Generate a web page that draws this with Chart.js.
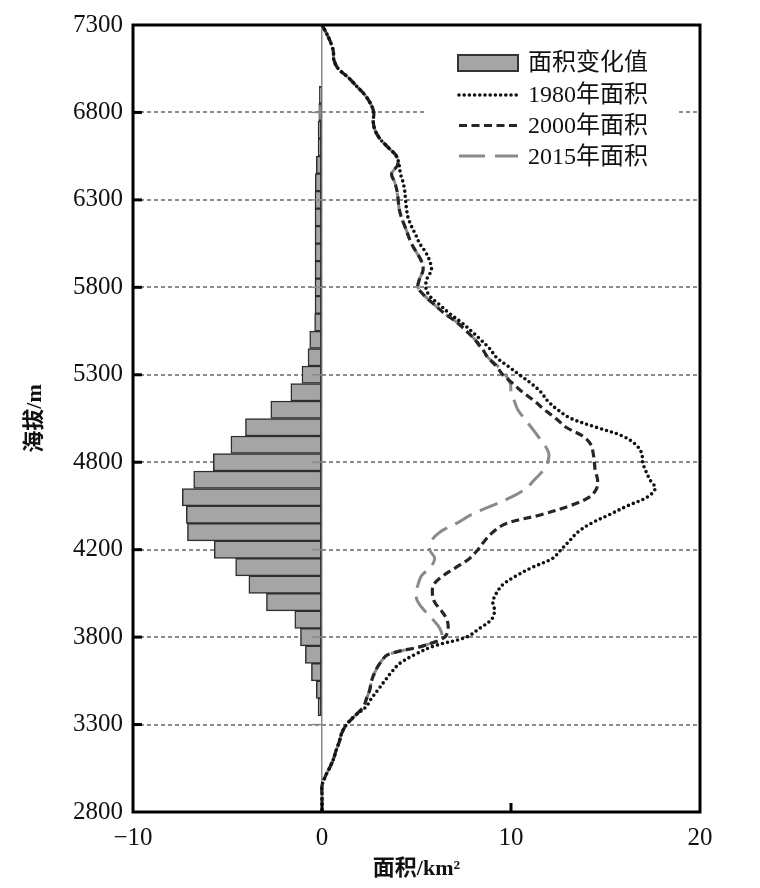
<!DOCTYPE html>
<html>
<head>
<meta charset="utf-8">
<script src="https://cdn.jsdelivr.net/npm/chart.js@4.4.1/dist/chart.umd.min.js"></script>
<style>
  html, body { margin: 0; padding: 0; background: #fff; }
</style>
</head>
<body>
<canvas id="chart" width="760" height="888"></canvas>
<script>
// altitude (m) of each curve sample, top to bottom
const altitudes = [
  7300, 7250, 7200, 7150, 7100, 7050, 7000, 6950, 6900, 6850,
  6800, 6750, 6700, 6650, 6600, 6550, 6500, 6450, 6400, 6350,
  6300, 6250, 6200, 6150, 6100, 6050, 6000, 5950, 5900, 5850,
  5800, 5750, 5700, 5650, 5600, 5550, 5500, 5450, 5400, 5350,
  5300, 5250, 5200, 5150, 5100, 5050, 5000, 4950, 4900, 4850,
  4800, 4750, 4700, 4650, 4600, 4550, 4500, 4450, 4400, 4350,
  4300, 4250, 4200, 4150, 4100, 4050, 4000, 3950, 3900, 3850,
  3800, 3750, 3700, 3650, 3600, 3550, 3500, 3450, 3400, 3350,
  3300, 3250, 3200, 3150, 3100, 3050, 3000, 2950, 2900, 2850, 2800
];

const area1980 = [
  0, 0.25, 0.46, 0.6, 0.63, 0.86, 1.39, 1.83, 2.27, 2.57,
  2.74, 2.71, 2.8, 3.06, 3.5, 3.94, 4.08, 4.15, 4.29, 4.38,
  4.42, 4.47, 4.55, 4.73, 4.96, 5.17, 5.49, 5.7, 5.79, 5.56,
  5.49, 5.7, 6.23, 6.75, 7.37, 7.9, 8.4, 8.87, 9.22, 9.83,
  10.45, 11.07, 11.59, 11.94, 12.47, 13.18, 14.5, 15.9, 16.61, 16.92,
  16.96, 17.13, 17.35, 17.63, 17.2, 16.15, 15.2, 14.23, 13.53, 13.09,
  12.65, 12.2, 11.15, 10.27, 9.57, 9.22, 9.04, 9.13, 8.96, 8.34,
  7.64, 5.95, 4.91, 4.12, 3.68, 3.32, 2.97, 2.62, 2.32, 1.74,
  1.3, 1.04, 0.91, 0.74, 0.6, 0.39, 0.16, 0, 0, 0, 0
];

const area2000 = [
  0, 0.25, 0.46, 0.6, 0.63, 0.86, 1.39, 1.83, 2.27, 2.57,
  2.74, 2.71, 2.8, 3.06, 3.5, 3.94, 4.0, 3.68, 3.85, 3.97,
  4.03, 4.08, 4.2, 4.38, 4.55, 4.73, 5.0, 5.26, 5.35, 5.17,
  5.08, 5.44, 5.96, 6.49, 7.14, 7.64, 8.1, 8.47, 8.77, 9.22,
  9.57, 10.1, 10.62, 11.24, 11.77, 12.38, 12.91, 13.79, 14.23, 14.35,
  14.41, 14.46, 14.58, 14.53, 14.14, 13.09, 11.59, 9.75, 9.04, 8.6,
  8.25, 7.81, 7.11, 6.4, 5.91, 5.84, 5.96, 6.32, 6.61, 6.67,
  6.49, 5.35, 3.5, 3.06, 2.8, 2.62, 2.53, 2.36, 2.18, 1.74,
  1.3, 1.04, 0.91, 0.74, 0.6, 0.39, 0.16, 0, 0, 0, 0
];

const area2015 = [
  0, 0.25, 0.46, 0.6, 0.63, 0.86, 1.39, 1.83, 2.27, 2.57,
  2.74, 2.71, 2.8, 3.06, 3.5, 3.94, 4.0, 3.68, 3.85, 3.97,
  4.03, 4.08, 4.2, 4.38, 4.55, 4.73, 5.0, 5.26, 5.35, 5.17,
  5.08, 5.44, 5.96, 6.49, 7.14, 7.64, 8.1, 8.4, 8.77, 9.3,
  9.71, 9.96, 10.01, 10.18, 10.36, 10.71, 11.07, 11.42, 11.77, 12.0,
  11.94, 11.68, 11.24, 10.8, 10.01, 8.96, 7.9, 7.11, 6.23, 5.79,
  5.7, 5.96, 5.74, 5.26, 5.08, 4.96, 5.08, 5.44, 5.87, 6.23,
  6.32, 5.35, 3.5, 3.06, 2.8, 2.62, 2.53, 2.36, 2.18, 1.74,
  1.3, 1.04, 0.91, 0.74, 0.6, 0.39, 0.16, 0, 0, 0, 0
];

// area change per 100 m band (centre altitude)
const barAltitudes = [
  6900, 6800, 6700, 6600, 6500, 6400, 6300, 6200, 6100, 6000,
  5900, 5800, 5700, 5600, 5500, 5400, 5300, 5200, 5100, 5000,
  4900, 4800, 4700, 4600, 4500, 4400, 4300, 4200, 4100, 4000,
  3900, 3800, 3700, 3600, 3500, 3400
];
const areaChange = [
  -0.14, -0.17, -0.21, -0.21, -0.3, -0.36, -0.37, -0.37, -0.37, -0.37,
  -0.37, -0.37, -0.37, -0.39, -0.65, -0.74, -1.06, -1.65, -2.71, -4.05,
  -4.82, -5.75, -6.79, -7.39, -7.18, -7.12, -5.7, -4.57, -3.87, -2.94,
  -1.44, -1.14, -0.88, -0.56, -0.3, -0.21
];

const yTickValues = [2800, 3300, 3800, 4300, 4800, 5300, 5800, 6300, 6800, 7300];
const yTickLabels = ['2800', '3300', '3800', '4200', '4800', '5300', '5800', '6300', '6800', '7300'];
const xTickValues = [-10, 0, 10, 20];
const xTickLabels = ['\u221210', '0', '10', '20'];
const legendLabels = ['面积变化值', '1980年面积', '2000年面积', '2015年面积'];

const FONT = '"Liberation Serif", "Noto Sans CJK SC", serif';

const toPoints = vals => vals.map((v, i) => ({ x: v, y: altitudes[i] }));

const lineStyles = [
  { color: '#111', dash: [0, 5.2], width: 3.6, legendDash: [0, 5.2] },
  { color: '#262626', dash: [8, 4.5], width: 3.2, legendDash: [8, 4.5] },
  { color: '#8a8a8a', dash: [19, 9], width: 3, legendDash: [26, 10] }
];

// frame, inner ticks and legend box
const decorPlugin = {
  id: 'decor',
  afterDraw(chart) {
    const { ctx, chartArea: a, scales } = chart;
    const x0 = scales.x.getPixelForValue(0);
    ctx.save();

    // short marks on the zero line
    ctx.strokeStyle = '#8a8a8a';
    ctx.lineWidth = 1.5;
    yTickValues.slice(1, -1).forEach(v => {
      const y = scales.y.getPixelForValue(v);
      ctx.beginPath();
      ctx.moveTo(x0 - 10, y);
      ctx.lineTo(x0, y);
      ctx.stroke();
    });

    // legend
    const lx = a.right - 242, ly = a.top + 30;
    ctx.fillStyle = '#fff';
    ctx.fillRect(a.right - 274, a.top + 14, 250, 144);

    ctx.fillStyle = '#a5a5a5';
    ctx.strokeStyle = '#333';
    ctx.lineWidth = 2;
    ctx.fillRect(lx, ly, 60, 16);
    ctx.strokeRect(lx, ly, 60, 16);

    lineStyles.forEach((s, i) => {
      const y = ly + 40 + i * 30.5;
      ctx.strokeStyle = s.color;
      ctx.lineWidth = s.width;
      ctx.setLineDash(s.legendDash);
      ctx.lineCap = i === 0 ? 'round' : 'butt';
      ctx.beginPath();
      ctx.moveTo(lx + 1, y);
      ctx.lineTo(lx + 60, y);
      ctx.stroke();
    });
    ctx.setLineDash([]);

    ctx.fillStyle = '#111';
    ctx.font = '24px ' + FONT;
    ctx.textBaseline = 'middle';
    legendLabels.forEach((t, i) => {
      ctx.fillText(t, lx + 70, ly + 9 + i * 31.3);
    });

    // frame
    ctx.strokeStyle = '#000';
    ctx.lineWidth = 3;
    ctx.lineCap = 'butt';
    ctx.strokeRect(a.left, a.top, a.right - a.left, a.bottom - a.top);

    // inward ticks
    yTickValues.slice(1, -1).forEach(v => {
      const y = scales.y.getPixelForValue(v);
      ctx.beginPath();
      ctx.moveTo(a.left, y);
      ctx.lineTo(a.left + 9, y);
      ctx.stroke();
    });
    xTickValues.slice(1, -1).forEach(v => {
      const x = scales.x.getPixelForValue(v);
      ctx.beginPath();
      ctx.moveTo(x, a.bottom);
      ctx.lineTo(x, a.bottom - 9);
      ctx.stroke();
    });
    ctx.restore();
  }
};

const ctx = document.getElementById('chart').getContext('2d');
new Chart(ctx, {
  type: 'bar',
  data: {
    datasets: [
      ...[area1980, area2000, area2015].map((vals, i) => ({
        type: 'line',
        label: legendLabels[i + 1],
        data: toPoints(vals),
        borderColor: lineStyles[i].color,
        borderWidth: lineStyles[i].width,
        borderDash: lineStyles[i].dash,
        borderCapStyle: i === 0 ? 'round' : 'butt',
        pointRadius: 0,
        tension: 0.35,
        fill: false
      })),
      {
        type: 'bar',
        label: legendLabels[0],
        data: barAltitudes.map((alt, i) => ({ x: areaChange[i], y: alt })),
        backgroundColor: '#a5a5a5',
        borderColor: '#2e2e2e',
        borderWidth: 1.5,
        borderSkipped: false,
        barPercentage: 1,
        categoryPercentage: 1
      }
    ]
  },
  options: {
    indexAxis: 'y',
    responsive: false,
    animation: false,
    layout: { padding: { top: 20, right: 60, left: 0, bottom: 0 } },
    plugins: {
      legend: { display: false },
      tooltip: { enabled: false }
    },
    scales: {
      x: {
        type: 'linear',
        min: -10,
        max: 20,
        offset: false,
        afterBuildTicks: s => { s.ticks = xTickValues.map(v => ({ value: v })); },
        afterFit: s => { s.height = 76; },
        ticks: {
          callback: (v, i) => xTickLabels[i],
          font: { family: FONT, size: 25 },
          color: '#111',
          padding: 11,
          maxRotation: 0
        },
        grid: {
          offset: false,
          drawTicks: false,
          color: c => (c.tick && c.tick.value === 0) ? '#8a8a8a' : 'rgba(0,0,0,0)',
          lineWidth: 1.5
        },
        border: { display: false },
        title: {
          display: true,
          text: '面积/km²',
          font: { family: FONT, size: 22, weight: 'bold' },
          color: '#111',
          padding: { top: 0, bottom: 5 }
        }
      },
      y: {
        type: 'linear',
        min: 2800,
        max: 7300,
        offset: false,
        afterBuildTicks: s => { s.ticks = yTickValues.map(v => ({ value: v })); },
        afterFit: s => { s.width = 133; },
        ticks: {
          callback: (v, i) => yTickLabels[i],
          font: { family: FONT, size: 25 },
          color: '#111',
          padding: 10
        },
        grid: {
          offset: false,
          drawTicks: false,
          color: c => (c.tick && (c.tick.value === 2800 || c.tick.value === 7300)) ? 'rgba(0,0,0,0)' : '#8c8c8c',
          lineWidth: 2
        },
        border: { display: false, dash: [4, 3] },
        title: {
          display: true,
          text: '海拔/m',
          font: { family: FONT, size: 22, weight: 'bold' },
          color: '#111',
          padding: { top: 22, bottom: 0 }
        }
      }
    }
  },
  plugins: [decorPlugin]
});
</script>
</body>
</html>
